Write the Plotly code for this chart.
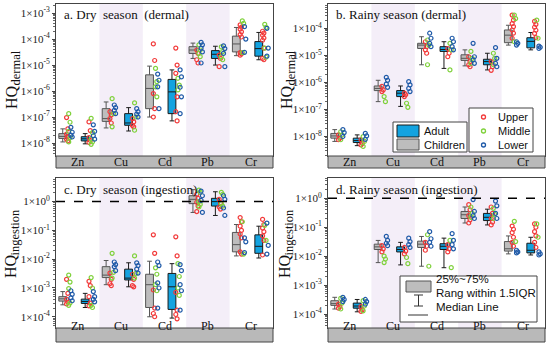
import plotly.graph_objects as go

ELEMENTS = ["Zn", "Cu", "Cd", "Pb", "Cr"]
PANEL_TITLES = ["a. Dry  season  (dermal)", "b. Rainy season (dermal)",
                "c. Dry  season (ingestion)", "d. Rainy season (ingestion)"]
Y_MAIN = "HQ"
Y_SUBS = ["dermal", "dermal", "ingestion", "ingestion"]
THRESHOLD = 1.0
TICKS_A = [1e-8, 1e-7, 1e-6, 1e-5, 1e-4, 1e-3]
TICKS_B = [1e-8, 1e-7, 1e-6, 1e-5, 1e-4]
TICKS_CD = [1e-4, 1e-3, 1e-2, 1e-1, 1e0]
TICKTEXT_A = ["1×10<sup>-8</sup>", "1×10<sup>-7</sup>", "1×10<sup>-6</sup>", "1×10<sup>-5</sup>", "1×10<sup>-4</sup>", "1×10<sup>-3</sup>"]
TICKTEXT_B = ["1×10<sup>-8</sup>", "1×10<sup>-7</sup>", "1×10<sup>-6</sup>", "1×10<sup>-5</sup>", "1×10<sup>-4</sup>"]
TICKTEXT_CD = ["1×10<sup>-4</sup>", "1×10<sup>-3</sup>", "1×10<sup>-2</sup>", "1×10<sup>-1</sup>", "1×10<sup>0</sup>"]

# box statistics per element: [lower whisker, q1, median, q3, upper whisker]
A_CHILD_BOX = [[1.1e-8, 1.5e-8, 1.8e-8, 2.3e-8, 3.5e-8], [3.8e-8, 6.8e-8, 8.7e-8, 2.1e-7, 3.8e-7],
               [1.0e-7, 2.1e-7, 1.26e-6, 4.2e-6, 9.1e-6], [1.8e-5, 2.8e-5, 3.8e-5, 5.1e-5, 7.0e-5],
               [2.3e-5, 3.2e-5, 6.5e-5, 1.3e-4, 2.8e-4]]
A_ADULT_BOX = [[9.3e-9, 1.2e-8, 1.45e-8, 1.75e-8, 2.3e-8], [2.9e-8, 4.8e-8, 5.9e-8, 1.35e-7, 2.3e-7],
               [7.1e-8, 1.35e-7, 9.3e-7, 2.8e-6, 6.5e-6], [1.0e-5, 1.8e-5, 2.6e-5, 3.6e-5, 5.3e-5],
               [1.6e-5, 2.2e-5, 4.3e-5, 8.0e-5, 1.8e-4]]
B_CHILD_BOX = [[6.6e-9, 8.7e-9, 1.05e-8, 1.3e-8, 1.8e-8], [1.95e-7, 5.0e-7, 6.0e-7, 7.4e-7, 1.2e-6],
               [4.5e-6, 1.8e-5, 2.4e-5, 2.8e-5, 4.9e-5], [4.1e-6, 6.5e-6, 7.8e-6, 1.05e-5, 1.6e-5],
               [2.4e-5, 2.95e-5, 5.6e-5, 8.7e-5, 1.3e-4]]
B_ADULT_BOX = [[4.6e-9, 6.0e-9, 7.1e-9, 8.7e-9, 1.15e-8], [1.3e-7, 3.0e-7, 4.0e-7, 5.0e-7, 7.4e-7],
               [3.3e-6, 1.4e-5, 1.65e-5, 2.1e-5, 3.2e-5], [2.9e-6, 4.5e-6, 5.9e-6, 7.2e-6, 1.2e-5],
               [1.6e-5, 1.9e-5, 3.3e-5, 4.5e-5, 7.0e-5]]
C_CHILD_BOX = [[2.6e-4, 3.5e-4, 4.2e-4, 5.0e-4, 7.5e-4], [1.3e-3, 2.3e-3, 2.8e-3, 5.5e-3, 9.0e-3],
               [1.0e-4, 2.1e-4, 1.3e-3, 3.0e-3, 8.5e-3], [0.42, 0.85, 1.2, 1.6, 2.6],
               [1.3e-2, 1.8e-2, 3.2e-2, 8.5e-2, 1.6e-1]]
C_ADULT_BOX = [[2.1e-4, 2.9e-4, 3.4e-4, 4.1e-4, 6.5e-4], [1.1e-3, 1.9e-3, 2.2e-3, 4.5e-3, 7.5e-3],
               [9.0e-5, 1.8e-4, 1.1e-3, 3.2e-3, 7.0e-3], [0.33, 0.7, 1.0, 1.3, 2.2],
               [1.1e-2, 1.6e-2, 2.8e-2, 7.0e-2, 1.4e-1]]
D_CHILD_BOX = [[1.5e-4, 2.0e-4, 2.3e-4, 2.9e-4, 3.8e-4], [6.0e-3, 1.7e-2, 2.1e-2, 2.6e-2, 3.5e-2],
               [4.5e-3, 2.0e-2, 2.6e-2, 3.3e-2, 4.8e-2], [0.14, 0.2, 0.27, 0.35, 0.5],
               [1.2e-2, 1.5e-2, 1.8e-2, 3.2e-2, 5.0e-2]]
D_ADULT_BOX = [[1.2e-4, 1.6e-4, 1.9e-4, 2.4e-4, 3.2e-4], [5.0e-3, 1.4e-2, 1.7e-2, 2.1e-2, 3.0e-2],
               [4.0e-3, 1.7e-2, 2.2e-2, 2.7e-2, 4.2e-2], [0.12, 0.17, 0.22, 0.3, 0.42],
               [1.1e-2, 1.3e-2, 1.6e-2, 2.8e-2, 4.5e-2]]

# sample points per element (Zn, Cu, Cd, Pb, Cr)
A_CHILD_UPPER = [[9.5e-8, 3.5e-8, 2.2e-8, 1.8e-8, 1.4e-8, 1.2e-8], [1.6e-7, 1.2e-7, 8.7e-8, 5.9e-8],
                 [6.5e-5, 1.5e-5, 8.0e-7, 2.1e-7, 1.0e-7], [3.8e-5, 2.8e-5, 1.6e-5, 1.2e-5],
                 [3.5e-4, 2.9e-4, 2.4e-4, 1.9e-4, 1.5e-4, 1.2e-4, 3.0e-5, 2.7e-5, 2.4e-5]]
A_CHILD_MIDDLE = [[1.35e-7, 6.3e-8, 2.8e-8, 1.6e-8, 1.1e-8], [5.1e-7, 1.35e-7, 4.2e-8],
                  [7.4e-6, 2.3e-6, 1.45e-6, 6.0e-7], [6.0e-5, 3.8e-5, 2.8e-5, 2.1e-5],
                  [5.0e-4, 4.0e-4, 3.0e-5]]
A_CHILD_LOWER = [[4.0e-8, 2.6e-8, 2.0e-8, 1.7e-8], [2.9e-7, 2.3e-7, 1.8e-7, 1.35e-7],
                 [4.5e-6, 2.6e-6, 1.45e-6, 2.1e-7], [7.5e-5, 6.0e-5, 4.5e-5, 3.2e-5, 1.2e-5],
                 [3.0e-4, 1.0e-4, 3.1e-5]]
A_ADULT_UPPER = [[6.5e-8, 3.0e-8, 1.6e-8, 1.25e-8, 1.05e-8], [8.7e-8, 6.5e-8, 4.8e-8, 4.2e-8],
                 [4.5e-5, 1.0e-5, 4.8e-6, 6.0e-7, 1.6e-7, 7.1e-8], [2.4e-5, 1.8e-5, 8.7e-6],
                 [2.0e-4, 1.7e-4, 1.4e-4, 1.1e-4, 9.0e-5, 4.5e-5, 1.8e-5, 1.6e-5]]
A_ADULT_MIDDLE = [[8.9e-8, 2.5e-8, 1.4e-8, 1.1e-8, 8.9e-9], [3.5e-7, 1.0e-7, 3.1e-8],
                  [3.1e-6, 1.7e-6, 1.1e-6], [5.0e-5, 3.3e-5, 2.1e-5, 1.6e-5],
                  [3.7e-4, 2.8e-4, 4.5e-5, 2.0e-5]]
A_ADULT_LOWER = [[5.0e-8, 2.8e-8, 1.9e-8, 1.4e-8], [2.1e-7, 1.6e-7, 1.3e-7, 1.0e-7],
                 [6.5e-6, 3.5e-6, 1.4e-6, 6.0e-7, 1.35e-7], [5.5e-5, 4.3e-5, 2.8e-5, 8.7e-6],
                 [2.6e-4, 4.5e-5, 2.2e-5]]

B_CHILD_UPPER = [[1.15e-8, 8.7e-9, 7.6e-9], [7.1e-7, 5.3e-7, 4.6e-7],
                 [3.2e-5, 2.1e-5, 1.6e-5, 1.2e-5], [8.9e-6, 5.9e-6, 4.5e-6, 3.8e-6],
                 [3.1e-4, 2.0e-4, 1.5e-4, 1.15e-4, 8.7e-5, 6.6e-5, 4.3e-5]]
B_CHILD_MIDDLE = [[1.5e-8, 1.15e-8, 7.6e-9], [3.0e-7, 1.95e-7],
                  [3.7e-5, 2.4e-5, 4.5e-6], [1.4e-5, 7.8e-6, 5.1e-6],
                  [3.1e-4, 2.3e-4, 3.2e-5]]
B_CHILD_LOWER = [[1.8e-8, 1.4e-8, 1.0e-8], [1.55e-6, 1.2e-6, 8.7e-7, 6.6e-7],
                 [6.6e-5, 4.3e-5, 2.8e-5, 2.1e-5], [2.8e-5, 8.9e-6, 6.8e-6, 5.1e-6],
                 [3.2e-5, 2.8e-5, 2.4e-5]]
B_ADULT_UPPER = [[7.6e-9, 5.6e-9, 4.9e-9], [4.0e-7, 3.5e-7, 3.0e-7],
                 [1.8e-5, 1.2e-5, 8.9e-6], [5.9e-6, 3.8e-6, 2.8e-6],
                 [1.8e-4, 1.4e-4, 1.1e-4, 8.5e-5, 6.5e-5, 4.5e-5]]
B_ADULT_MIDDLE = [[1.0e-8, 6.6e-9, 4.3e-9], [1.7e-7, 1.2e-7],
                  [2.8e-5, 1.6e-5, 2.9e-6], [1.2e-5, 7.8e-6, 4.5e-6],
                  [2.0e-4, 4.3e-5]]
B_ADULT_LOWER = [[1.3e-8, 1.05e-8, 7.9e-9], [1.07e-6, 8.1e-7, 6.0e-7, 4.6e-7],
                 [4.3e-5, 3.2e-5, 2.1e-5, 1.6e-5], [1.95e-5, 7.8e-6, 5.1e-6, 3.8e-6],
                 [2.2e-5, 2.0e-5, 1.8e-5]]

C_CHILD_UPPER = [[2.0e-3, 6.5e-4, 4.0e-4, 3.2e-4, 2.8e-4], [3.3e-3, 2.0e-3, 1.4e-3, 1.2e-3],
                 [7.0e-2, 1.6e-2, 8.5e-4, 2.0e-4, 1.3e-4, 1.0e-4], [1.8, 1.3, 0.95, 0.7, 0.45],
                 [2.8e-1, 2.0e-1, 1.4e-1, 1.0e-1, 7.5e-2, 5.5e-2, 1.8e-2, 1.5e-2]]
C_CHILD_MIDDLE = [[2.8e-3, 1.6e-3, 9.5e-4, 3.0e-4, 2.5e-4], [1.6e-2, 3.5e-3, 2.2e-3],
                  [5.0e-3, 3.0e-3, 1.3e-3, 8.0e-4], [2.5, 2.1, 1.0, 0.8, 0.65],
                  [2.0e-1, 1.5e-2]]
C_CHILD_LOWER = [[8.0e-4, 6.0e-4, 4.5e-4, 3.6e-4], [8.0e-3, 6.5e-3, 5.5e-3, 4.0e-3],
                 [8.0e-3, 6.0e-3, 1.5e-3, 1.0e-3, 2.0e-4], [2.3, 1.6, 1.1, 0.42],
                 [5.5e-2, 4.0e-2, 1.7e-2]]
C_ADULT_UPPER = [[1.7e-3, 1.2e-3, 5.0e-4, 3.0e-4, 2.4e-4], [3.0e-3, 2.0e-3, 1.2e-3, 1.1e-3],
                 [6.0e-2, 1.3e-2, 7.0e-4, 1.7e-4, 1.2e-4, 8.5e-5], [1.2, 0.9, 0.65, 0.55],
                 [2.4e-1, 1.6e-1, 1.2e-1, 9.0e-2, 6.5e-2, 4.5e-2, 1.4e-2]]
C_ADULT_MIDDLE = [[2.3e-3, 1.0e-3, 2.5e-4, 2.1e-4], [1.3e-2, 3.2e-3, 2.2e-3],
                  [7.0e-3, 2.5e-3, 1.0e-3, 5.5e-4], [2.1, 1.8, 0.85, 0.7],
                  [1.5e-1, 4.5e-2]]
C_ADULT_LOWER = [[7.5e-4, 5.0e-4, 4.0e-4, 3.3e-4], [7.5e-3, 6.0e-3, 4.5e-3, 3.3e-3],
                 [6.5e-3, 4.0e-3, 1.3e-3, 8.0e-4, 1.7e-4], [1.6, 1.2, 0.6, 0.33],
                 [1.8e-1, 3.0e-2, 1.5e-2]]

D_CHILD_UPPER = [[2.2e-4, 1.8e-4, 1.6e-4], [2.3e-2, 1.8e-2, 1.4e-2],
                 [3.0e-2, 2.2e-2, 1.6e-2], [0.6, 0.4, 0.25, 0.18, 0.14],
                 [1.1e-1, 8.5e-2, 6.5e-2, 4.5e-2, 3.0e-2, 2.2e-2]]
D_CHILD_MIDDLE = [[3.5e-4, 2.4e-4, 1.5e-4], [1.0e-2, 8.0e-3, 6.0e-3],
                  [5.5e-2, 4.5e-3], [0.5, 0.3, 0.22],
                  [1.6e-1, 3.2e-2]]
D_CHILD_LOWER = [[3.8e-4, 3.2e-4, 2.7e-4], [4.8e-2, 3.5e-2, 2.8e-2, 2.3e-2],
                 [7.0e-2, 4.0e-2, 3.0e-2, 2.2e-2], [0.9, 0.35, 0.25, 0.2],
                 [1.6e-2, 1.4e-2, 1.3e-2]]
D_ADULT_UPPER = [[1.8e-4, 1.4e-4, 1.25e-4], [2.0e-2, 1.5e-2, 1.2e-2],
                 [2.5e-2, 1.8e-2, 1.4e-2], [0.5, 0.3, 0.2, 0.15, 0.12],
                 [1.3e-1, 1.0e-1, 7.0e-2, 5.0e-2, 3.0e-2, 2.0e-2]]
D_ADULT_MIDDLE = [[2.9e-4, 1.9e-4, 1.3e-4], [9.0e-3, 5.5e-3],
                  [3.5e-2, 4.0e-3], [0.45, 0.28, 0.2],
                  [1.3e-1, 4.5e-2]]
D_ADULT_LOWER = [[3.2e-4, 2.7e-4, 2.2e-4], [4.2e-2, 3.2e-2, 2.5e-2, 2.0e-2],
                 [6.0e-2, 3.5e-2, 2.5e-2, 1.8e-2], [0.8, 0.55, 0.3, 0.2],
                 [1.4e-2, 1.2e-2, 1.1e-2]]

# ---------------------------------------------------------------- styling
SERIF = "Liberation Serif"
SANS = "Liberation Sans"
W, H = 550, 347
GRAY_FILL, GRAY_LINE = "#bdbdbd", "#555555"
BLUE_FILL, BLUE_LINE = "#13a3e0", "#1a1a1a"
REGION_COLORS = ["#f23a3a", "#7fd13b", "#1f5aa8"]
REGION_NAMES = ["Upper", "Middle", "Lower"]
CHILD_OFF, ADULT_OFF, BOX_W = -0.345, 0.172, 0.18
PT_OFF = [0.10, 0.15, 0.20]


def px(xp):
    return xp / W


def py(yp):
    return 1 - yp / H


panels = [
    dict(cbox=A_CHILD_BOX, abox=A_ADULT_BOX, cpts=[A_CHILD_UPPER, A_CHILD_MIDDLE, A_CHILD_LOWER],
         apts=[A_ADULT_UPPER, A_ADULT_MIDDLE, A_ADULT_LOWER], yr=[-8.5, -2.65], tv=TICKS_A, tt=TICKTEXT_A,
         x=(56, 273), y=(4, 156), band=(156, 168), line=False, hq=(11, 97), sub=(15.5, 68)),
    dict(cbox=B_CHILD_BOX, abox=B_ADULT_BOX, cpts=[B_CHILD_UPPER, B_CHILD_MIDDLE, B_CHILD_LOWER],
         apts=[B_ADULT_UPPER, B_ADULT_MIDDLE, B_ADULT_LOWER], yr=[-8.72, -3.1], tv=TICKS_B, tt=TICKTEXT_B,
         x=(328, 545), y=(4, 156), band=(156, 168), line=False, hq=(286, 97), sub=(290.5, 68)),
    dict(cbox=C_CHILD_BOX, abox=C_ADULT_BOX, cpts=[C_CHILD_UPPER, C_CHILD_MIDDLE, C_CHILD_LOWER],
         apts=[C_ADULT_UPPER, C_ADULT_MIDDLE, C_ADULT_LOWER], yr=[-4.39, 0.82], tv=TICKS_CD, tt=TICKTEXT_CD,
         x=(56, 273), y=(178, 328), band=(328, 342), line=True, hq=(10, 266), sub=(14.5, 232)),
    dict(cbox=D_CHILD_BOX, abox=D_ADULT_BOX, cpts=[D_CHILD_UPPER, D_CHILD_MIDDLE, D_CHILD_LOWER],
         apts=[D_ADULT_UPPER, D_ADULT_MIDDLE, D_ADULT_LOWER], yr=[-4.48, 0.7], tv=TICKS_CD, tt=TICKTEXT_CD,
         x=(328, 545), y=(178, 328), band=(328, 342), line=True, hq=(284, 266), sub=(288.5, 232)),
]

fig = go.Figure()
shapes, annotations = [], []
layout_axes = {}

for p_i, P in enumerate(panels):
    sfx = "" if p_i == 0 else str(p_i + 1)
    xa, ya = "x" + sfx, "y" + sfx
    layout_axes["xaxis" + sfx] = dict(
        domain=[px(P["x"][0]), px(P["x"][1])], range=[-0.5, 4.5], anchor=ya,
        showgrid=False, zeroline=False, showticklabels=False, ticks="",
        showline=True, mirror=True, linecolor="#444", linewidth=1, fixedrange=True)
    layout_axes["yaxis" + sfx] = dict(
        domain=[py(P["y"][1]), py(P["y"][0])], type="log", range=P["yr"], anchor=xa,
        showgrid=False, zeroline=False, tickvals=P["tv"], ticktext=P["tt"],
        ticks="outside", ticklen=3, tickcolor="#444",
        minor=dict(ticks="outside", ticklen=2, tickcolor="#666", dtick="D1"),
        tickfont=dict(family=SERIF, size=11, color="#222"),
        showline=True, mirror=True, linecolor="#444", linewidth=1, fixedrange=True)

    # shaded columns for Cu and Pb
    for k in (1, 3):
        shapes.append(dict(type="rect", xref=xa, yref=ya + " domain", x0=k - 0.5, x1=k + 0.5,
                           y0=0, y1=1, fillcolor="#f4eef8", line=dict(width=0), layer="below"))
    # category band
    shapes.append(dict(type="rect", xref="paper", yref="paper", x0=px(P["x"][0]), x1=px(P["x"][1]),
                       y0=py(P["band"][1]), y1=py(P["band"][0]), fillcolor="#b9b9b9",
                       line=dict(color="#444", width=1)))
    for k, el in enumerate(ELEMENTS):
        annotations.append(dict(x=k, y=py((P["band"][0] + P["band"][1]) / 2), xref=xa, yref="paper",
                                text=el, showarrow=False, font=dict(family=SERIF, size=12, color="#111")))

    # boxes
    for stats, off, fill, lc in ((P["cbox"], CHILD_OFF, GRAY_FILL, GRAY_LINE),
                                 (P["abox"], ADULT_OFF, BLUE_FILL, BLUE_LINE)):
        xs = [k + off for k in range(len(ELEMENTS))]
        fig.add_trace(go.Box(
            x=xs, lowerfence=[s[0] for s in stats], q1=[s[1] for s in stats],
            median=[s[2] for s in stats], q3=[s[3] for s in stats], upperfence=[s[4] for s in stats],
            width=BOX_W, whiskerwidth=0.6, fillcolor=fill, line=dict(color=lc, width=1),
            boxpoints=False, xaxis=xa, yaxis=ya, showlegend=False, hoverinfo="skip"))

    # points
    for group, off in ((P["cpts"], CHILD_OFF), (P["apts"], ADULT_OFF)):
        for r, region in enumerate(group):
            xs, ys = [], []
            for k, vals in enumerate(region):
                for i, v in enumerate(vals):
                    xs.append(k + off + PT_OFF[r] + (0.018 if i % 2 else -0.012))
                    ys.append(v)
            fig.add_trace(go.Scatter(
                x=xs, y=ys, mode="markers", xaxis=xa, yaxis=ya, showlegend=False, hoverinfo="skip",
                marker=dict(symbol="circle-open", size=4, color=REGION_COLORS[r],
                            line=dict(width=1.2, color=REGION_COLORS[r]))))

    if P["line"]:
        fig.add_trace(go.Scatter(x=[-0.5, 4.5], y=[THRESHOLD, THRESHOLD], mode="lines",
                                 xaxis=xa, yaxis=ya, showlegend=False, hoverinfo="skip",
                                 line=dict(color="black", width=1.5, dash="dash")))

    annotations.append(dict(x=px(P["x"][0] + 6), y=py(P["y"][0] + 11), xref="paper", yref="paper",
                            xanchor="left", yanchor="middle", text=PANEL_TITLES[p_i], showarrow=False,
                            font=dict(family=SERIF, size=13, color="#111")))
    # y-axis title: "HQ" with a subscript, drawn as two rotated texts
    annotations.append(dict(x=px(P["hq"][0]), y=py(P["hq"][1]), xref="paper", yref="paper",
                            xanchor="center", yanchor="middle", text=Y_MAIN, textangle=-90,
                            showarrow=False, font=dict(family=SERIF, size=16, color="#111")))
    annotations.append(dict(x=px(P["sub"][0]), y=py(P["sub"][1]), xref="paper", yref="paper",
                            xanchor="center", yanchor="middle", text=Y_SUBS[p_i], textangle=-90,
                            showarrow=False, font=dict(family=SERIF, size=12.5, color="#111")))

# ------------------------------------------------ legend in panel b
shapes.append(dict(type="rect", xref="paper", yref="paper", x0=px(393), x1=px(467), y0=py(152), y1=py(122),
                   fillcolor="white", line=dict(color="#444", width=1)))
shapes.append(dict(type="rect", xref="paper", yref="paper", x0=px(397), x1=px(419), y0=py(137), y1=py(125),
                   fillcolor=BLUE_FILL, line=dict(color=BLUE_LINE, width=1)))
shapes.append(dict(type="rect", xref="paper", yref="paper", x0=px(397), x1=px(419), y0=py(150), y1=py(139),
                   fillcolor=GRAY_FILL, line=dict(color=GRAY_LINE, width=1)))
for txt, yy in (("Adult", 131), ("Children", 145)):
    annotations.append(dict(x=px(422), y=py(yy), xref="paper", yref="paper", xanchor="left",
                            text=txt, showarrow=False, font=dict(family=SANS, size=11, color="#111")))
shapes.append(dict(type="rect", xref="paper", yref="paper", x0=px(469), x1=px(533), y0=py(152), y1=py(108),
                   fillcolor="white", line=dict(color="#444", width=1)))
for r, yy in enumerate((117, 131, 145)):
    shapes.append(dict(type="circle", xref="paper", yref="paper", x0=px(481.5), x1=px(485.5),
                       y0=py(yy + 2), y1=py(yy - 2), fillcolor="white",
                       line=dict(color=REGION_COLORS[r], width=1.3)))
    annotations.append(dict(x=px(496), y=py(yy), xref="paper", yref="paper", xanchor="left",
                            text=REGION_NAMES[r], showarrow=False,
                            font=dict(family=SANS, size=11, color="#111")))

# ------------------------------------------------ legend in panel d
shapes.append(dict(type="rect", xref="paper", yref="paper", x0=px(400), x1=px(537), y0=py(322), y1=py(276),
                   fillcolor="white", line=dict(color="#444", width=1)))
shapes.append(dict(type="rect", xref="paper", yref="paper", x0=px(406), x1=px(431), y0=py(292), y1=py(281),
                   fillcolor=GRAY_FILL, line=dict(color=GRAY_LINE, width=1)))
shapes.append(dict(type="line", xref="paper", yref="paper", x0=px(418.5), x1=px(418.5), y0=py(306), y1=py(295),
                   line=dict(color="#333", width=1)))
shapes.append(dict(type="line", xref="paper", yref="paper", x0=px(414), x1=px(423), y0=py(295), y1=py(295),
                   line=dict(color="#333", width=1)))
shapes.append(dict(type="line", xref="paper", yref="paper", x0=px(414), x1=px(423), y0=py(306), y1=py(306),
                   line=dict(color="#333", width=1)))
shapes.append(dict(type="line", xref="paper", yref="paper", x0=px(408), x1=px(428), y0=py(315), y1=py(315),
                   line=dict(color="#333", width=1)))
for txt, yy in (("25%~75%", 287), ("Rang within 1.5IQR", 301), ("Median Line", 315)):
    annotations.append(dict(x=px(434), y=py(yy), xref="paper", yref="paper", xanchor="left",
                            text=txt, showarrow=False, font=dict(family=SANS, size=11.5, color="#111")))

fig.update_layout(
    width=W, height=H, margin=dict(l=0, r=0, t=0, b=0),
    paper_bgcolor="white", plot_bgcolor="white", showlegend=False, boxmode="overlay",
    shapes=shapes, annotations=annotations, **layout_axes)

fig.write_html("out.html", config={"displayModeBar": False, "staticPlot": True},
               post_script="document.body.style.margin='0px';")
